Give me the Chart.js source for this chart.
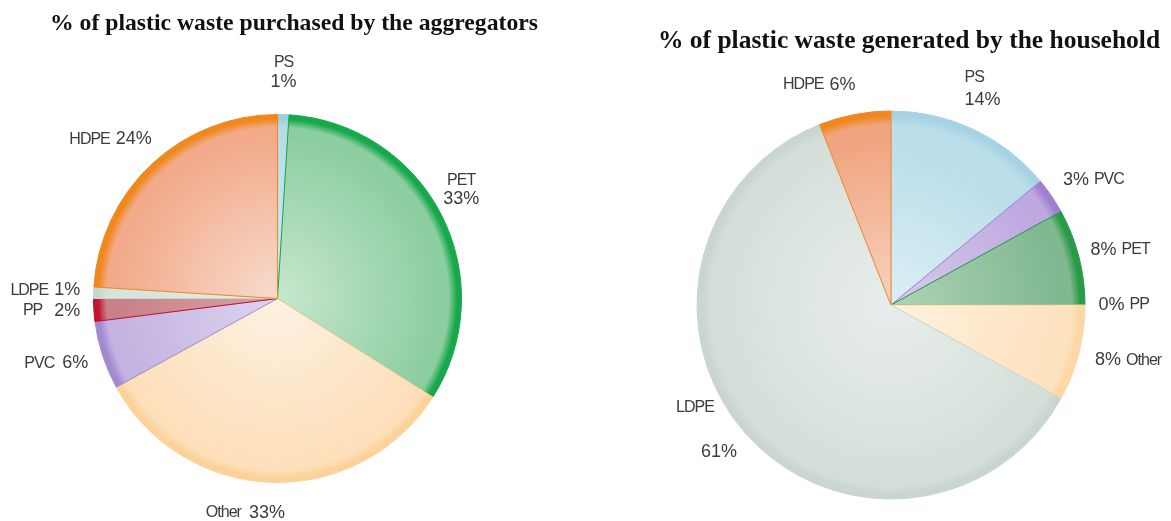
<!DOCTYPE html>
<html>
<head>
<meta charset="utf-8">
<title>Plastic waste composition</title>
<script src="https://cdn.jsdelivr.net/npm/chart.js@4/dist/chart.umd.min.js"></script>
<style>
  html, body { margin: 0; padding: 0; background: #ffffff; width: 1171px; height: 521px; overflow: hidden; }
  .panel { position: absolute; top: 0; height: 521px; }
  #panelAggregators { left: 0; width: 585px; }
  #panelHousehold { left: 585px; width: 586px; }
  .panel canvas { position: absolute; left: 0; top: 0; }
  .title {
    position: absolute; white-space: nowrap; color: #111111;
    font-family: "Liberation Serif", "Times New Roman", serif; font-weight: bold;
    line-height: 28px; transform: translateX(-50%);
  }
</style>
</head>
<body>
<div class="panel" id="panelAggregators">
  <canvas id="chartAggregators" width="585" height="521"></canvas>
  <div class="title" style="left:294px; top:8px; font-size:23.7px;">% of plastic waste purchased by the aggregators</div>
</div>
<div class="panel" id="panelHousehold">
  <canvas id="chartHousehold" width="586" height="521"></canvas>
  <div class="title" style="left:324px; top:26px; font-size:25.5px;">% of plastic waste generated by the household</div>
</div>

<script>
// Plastic types and their shares (%), listed clockwise from 12 o'clock
const categoriesAggregators = ['PS', 'PET', 'Other', 'PVC', 'PP', 'LDPE', 'HDPE'];
const sharesAggregators = [1, 33, 33, 6, 2, 1, 24];

const categoriesHousehold = ['PS', 'PVC', 'PET', 'PP', 'Other', 'LDPE', 'HDPE'];
const sharesHousehold = [14, 3, 8, 0, 8, 61, 6];

// Shading per slice: [centre tint, body colour, outer rim]
const paletteAggregators = [
  ['#d6edf3', '#b6dde7', '#9ccfdc'],   // PS
  ['#c8e7cf', '#8dcea0', '#17a84b'],   // PET
  ['#fdf1e2', '#fde0bb', '#fcd29b'],   // Other
  ['#ddd4ef', '#c4b3e1', '#a38ad0'],   // PVC
  ['#d8a2a6', '#c98088', '#c3132d'],   // PP
  ['#e6eeea', '#d6e2dc', '#c6d5cd'],   // LDPE
  ['#f8dccd', '#f2aa8b', '#f0891d']    // HDPE
];
const paletteHousehold = [
  ['#dbeef4', '#b9dde9', '#a6d3e3'],   // PS
  ['#d8cbeb', '#bea8e0', '#9f80d0'],   // PVC
  ['#aed3b6', '#80b890', '#289b47'],   // PET
  ['#d8a2a6', '#c98088', '#c3132d'],   // PP
  ['#fff1de', '#fde2bf', '#fdd7a5'],   // Other
  ['#e8eeeb', '#d5dfda', '#c9d5cf'],   // LDPE
  ['#f8d2bf', '#f0a47f', '#f0881f']    // HDPE
];

// How each outside label is composed and nudged from its default spot
const labelLayoutAggregators = [
  { form: 'stack', align: 'center', lineGap: 19, dx: -1, dy: 0 },
  { form: 'stack', align: 'center', lineGap: 19, dx: -18, dy: -6 },
  { form: 'nameFirst', gap: 8, dx: -25, dy: -12 },
  { form: 'nameFirst', gap: 8, dx: -6, dy: -5 },
  { form: 'nameFirst', gap: 12, dx: 0, dy: -2 },
  { form: 'nameFirst', gap: 6, dx: -6, dy: -1 },
  { form: 'nameFirst', gap: 6, dx: -12, dy: 6 }
];
const labelLayoutHousehold = [
  { form: 'stack', align: 'left', lineGap: 22, dx: -28, dy: 0 },
  { form: 'pctFirst', gap: 5, dx: 5, dy: 9 },
  { form: 'pctFirst', gap: 5, dx: -2, dy: 4 },
  { form: 'pctFirst', gap: 5, dx: -6, dy: 0 },
  { form: 'pctFirst', gap: 5, dx: 6, dy: -4 },
  { form: 'stack', align: 'center', lineGap: 44, lineDx: [-12, 12], dx: -5, dy: -33 },
  { form: 'nameFirst', gap: 6, dx: -27, dy: 14 }
];

const NAME_FONT = '16px "Liberation Sans", Arial, sans-serif';
const PCT_FONT = '18px "Liberation Sans", Arial, sans-serif';
const TEXT_COLOR = '#3c3c3c';

// Radial shading: lighter toward the centre, darker band along the rim
function shaded(palette, radius) {
  return (c) => {
    const shades = palette[c.dataIndex];
    const area = c.chart.chartArea;
    if (!area) return shades[1];
    const cx = (area.left + area.right) / 2;
    const cy = (area.top + area.bottom) / 2;
    const g = c.chart.ctx.createRadialGradient(cx, cy, 0, cx, cy, radius);
    g.addColorStop(0, shades[0]);
    g.addColorStop(0.87, shades[1]);
    g.addColorStop(0.93, shades[1]);
    g.addColorStop(0.975, shades[2]);
    g.addColorStop(1, shades[2]);
    return g;
  };
}

function drawText(ctx, text, font, x, y, align, spacing) {
  ctx.font = font;
  ctx.letterSpacing = spacing || '0px';
  ctx.textAlign = align;
  ctx.fillText(text, x, y);
  ctx.letterSpacing = '0px';
}

function textWidth(ctx, text, font, spacing) {
  ctx.font = font;
  ctx.letterSpacing = spacing || '0px';
  const w = ctx.measureText(text).width;
  ctx.letterSpacing = '0px';
  return w;
}

// Category name + percentage placed outside each slice
const sliceLabels = {
  id: 'sliceLabels',
  afterDatasetsDraw(chart, args, opts) {
    const ctx = chart.ctx;
    const meta = chart.getDatasetMeta(0);
    const names = chart.data.labels;
    const values = chart.data.datasets[0].data;
    ctx.save();
    ctx.fillStyle = TEXT_COLOR;
    ctx.textBaseline = 'middle';
    meta.data.forEach((arc, i) => {
      const p = arc.getProps(['x', 'y', 'startAngle', 'endAngle', 'outerRadius'], true);
      const lay = opts.layout[i];
      const mid = (p.startAngle + p.endAngle) / 2;
      const d = p.outerRadius * opts.distance;
      const ax = p.x + Math.cos(mid) * d + lay.dx;
      const ay = p.y + Math.sin(mid) * d + lay.dy;
      const name = names[i];
      const pct = values[i] + '%';
      if (lay.form === 'stack') {
        const ldx = lay.lineDx || [0, 0];
        drawText(ctx, name, NAME_FONT, ax + ldx[0], ay - lay.lineGap / 2, lay.align, '-1px');
        drawText(ctx, pct, PCT_FONT, ax + ldx[1], ay + lay.lineGap / 2, lay.align);
      } else {
        const wName = textWidth(ctx, name, NAME_FONT, '-1px');
        const wPct = textWidth(ctx, pct, PCT_FONT);
        const total = wName + lay.gap + wPct;
        const x = ax - total / 2;
        if (lay.form === 'nameFirst') {
          drawText(ctx, name, NAME_FONT, x, ay, 'left', '-1px');
          drawText(ctx, pct, PCT_FONT, x + wName + lay.gap, ay, 'left');
        } else {
          drawText(ctx, pct, PCT_FONT, x, ay, 'left');
          drawText(ctx, name, NAME_FONT, x + wPct + lay.gap, ay, 'left', '-1px');
        }
      }
    });
    ctx.restore();
  }
};

function makePie(canvasId, categories, shares, palette, layout, radius, padding) {
  return new Chart(document.getElementById(canvasId), {
    type: 'pie',
    data: {
      labels: categories,
      datasets: [{
        data: shares,
        backgroundColor: shaded(palette, radius),
        borderColor: palette.map(s => s[2]),
        borderWidth: 1,
        radius: radius
      }]
    },
    options: {
      responsive: false,
      animation: false,
      layout: { padding: padding },
      plugins: {
        legend: { display: false },
        tooltip: { enabled: false },
        title: { display: false },
        sliceLabels: { layout: layout, distance: 1.23 }
      }
    },
    plugins: [sliceLabels]
  });
}

makePie('chartAggregators', categoriesAggregators, sharesAggregators, paletteAggregators,
  labelLayoutAggregators, 184, { left: 93.5, right: 123.5, top: 114.5, bottom: 38.5 });

makePie('chartHousehold', categoriesHousehold, sharesHousehold, paletteHousehold,
  labelLayoutHousehold, 194, { left: 112, right: 86, top: 111, bottom: 22 });
</script>
</body>
</html>
